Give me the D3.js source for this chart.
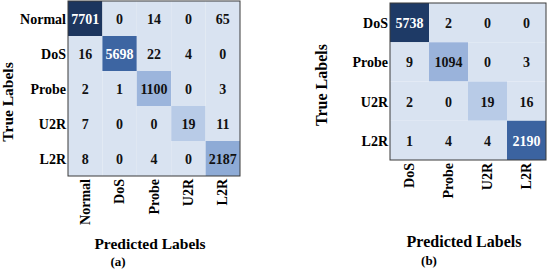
<!DOCTYPE html>
<html>
<head>
<meta charset="utf-8">
<script src="https://cdn.jsdelivr.net/npm/d3@7"></script>
<style>
  body { margin: 0; background: #fff; }
  svg { display: block; }
  text { font-family: "Palatino Linotype", "Book Antiqua", "Liberation Serif", serif; font-weight: bold; }
</style>
</head>
<body>
<svg width="550" height="272"></svg>
<script>
// panel (a)
var labelsA = ["Normal", "DoS", "Probe", "U2R", "L2R"];
var matrixA = [
    [7701, 0, 14, 0, 65],
    [16, 5698, 22, 4, 0],
    [2, 1, 1100, 0, 3],
    [7, 0, 0, 19, 11],
    [8, 0, 4, 0, 2187]
];
var colorStopsA = [0, 19, 1100, 2187, 5698, 7701];

// panel (b)
var labelsB = ["DoS", "Probe", "U2R", "L2R"];
var matrixB = [
    [5738, 2, 0, 0],
    [9, 1094, 0, 3],
    [2, 0, 19, 16],
    [1, 4, 4, 2190]
];
var colorStopsB = [0, 19, 1094, 2190, 5738];

var svg = d3.select('svg');

var drawMatrix = function(o) {
    var g = svg.append('g');
    var x = d3.scaleBand().domain(o.labels).range([o.x0, o.x1]);
    var y = d3.scaleBand().domain(o.labels).range([o.y0, o.y1]);
    var color = d3.scaleLinear().domain(o.stops).range(o.colors).clamp(true);
    var bg = o.colors[0];

    var cells = [];
    o.matrix.forEach(function(row, i) {
        row.forEach(function(v, j) {
            cells.push({ t: o.labels[i], p: o.labels[j], v: v, diag: i === j });
        });
    });
    // only the diagonal is shaded, the rest keeps the base colour
    var fill = function(d) { return d.diag ? color(d.v) : bg };

    g.selectAll('rect.cell')
        .data(cells)
        .enter()
        .append('rect')
        .attr('class', 'cell')
        .attr('x', function(d) { return x(d.p) })
        .attr('y', function(d) { return y(d.t) })
        .attr('width', x.bandwidth())
        .attr('height', y.bandwidth())
        .style('fill', fill);

    g.selectAll('text.val')
        .data(cells)
        .enter()
        .append('text')
        .attr('class', 'val')
        .attr('x', function(d) { return x(d.p) + x.bandwidth() / 2 })
        .attr('y', function(d) { return y(d.t) + y.bandwidth() / 2 + 1 })
        .attr('text-anchor', 'middle')
        .attr('dominant-baseline', 'central')
        .attr('font-size', o.fs + 'px')
        .style('fill', function(d) { return d3.hsl(fill(d)).l < 0.5 ? '#fff' : '#111' })
        .text(function(d) { return d.v });

    g.append('rect')
        .attr('x', o.x0)
        .attr('y', o.y0)
        .attr('width', o.x1 - o.x0)
        .attr('height', o.y1 - o.y0)
        .style('fill', 'none')
        .style('stroke', '#3a3a3a')
        .style('stroke-width', 1);

    // row labels
    g.selectAll('text.row')
        .data(o.labels)
        .enter()
        .append('text')
        .attr('class', 'row')
        .attr('x', o.x0 - 2)
        .attr('y', function(d) { return y(d) + y.bandwidth() / 2 + 1 })
        .attr('text-anchor', 'end')
        .attr('dominant-baseline', 'central')
        .attr('font-size', o.fs + 'px')
        .text(function(d) { return d });

    // column labels, rotated
    g.selectAll('text.col')
        .data(o.labels)
        .enter()
        .append('text')
        .attr('class', 'col')
        .attr('text-anchor', 'end')
        .attr('dominant-baseline', 'central')
        .attr('font-size', o.fs + 'px')
        .attr('transform', function(d) {
            return 'translate(' + (x(d) + x.bandwidth() / 2) + ',' + (o.y1 + 3) + ') rotate(-90)';
        })
        .text(function(d) { return d });

    g.append('text')
        .attr('text-anchor', 'middle')
        .attr('font-size', o.titleFs + 'px')
        .attr('transform', 'translate(' + o.yTitle[0] + ',' + o.yTitle[1] + ') rotate(-90)')
        .text('True Labels');

    g.append('text')
        .attr('text-anchor', 'middle')
        .attr('x', o.xTitle[0])
        .attr('y', o.xTitle[1])
        .attr('font-size', o.titleFs + 'px')
        .text('Predicted Labels');

    g.append('text')
        .attr('text-anchor', 'middle')
        .attr('x', o.cap[0])
        .attr('y', o.cap[1])
        .attr('font-size', '13px')
        .text(o.caption);
};

drawMatrix({
    labels: labelsA, matrix: matrixA, stops: colorStopsA,
    colors: ['#d9e3f1', '#b8cbe7', '#9cb5dc', '#8eabd6', '#3d65a2', '#1c355e'],
    x0: 68, x1: 240, y0: 1, y1: 176, fs: 14, titleFs: 15.5,
    yTitle: [13, 102], xTitle: [150, 249], cap: [118, 266], caption: '(a)'
});

drawMatrix({
    labels: labelsB, matrix: matrixB, stops: colorStopsB,
    colors: ['#d9e3f1', '#b8cbe7', '#9ab3db', '#3b63a0', '#1e3a66'],
    x0: 390, x1: 546, y0: 3, y1: 160, fs: 14, titleFs: 16,
    yTitle: [327, 85], xTitle: [464, 247], cap: [429, 265], caption: '(b)'
});
</script>
</body>
</html>
